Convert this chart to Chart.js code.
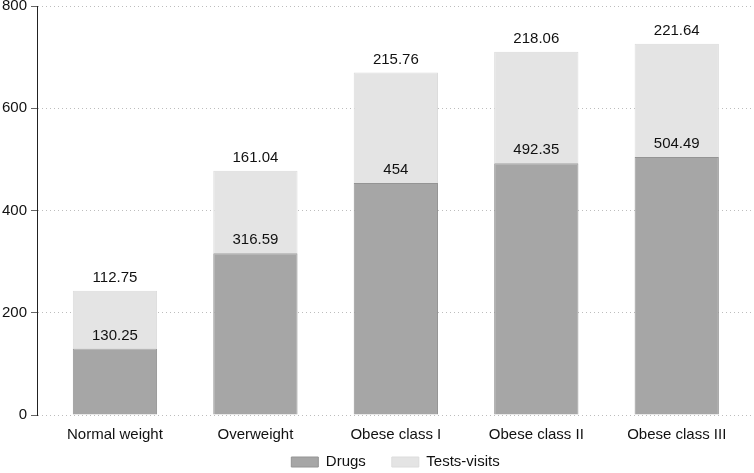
<!DOCTYPE html>
<html>
<head>
<meta charset="utf-8">
<script src="https://cdn.jsdelivr.net/npm/chart.js@4/dist/chart.umd.min.js"></script>
<style>
  html, body { margin: 0; padding: 0; background: #fff; }
  #wrap { width: 754px; height: 473px; position: relative; }
</style>
</head>
<body>
<div id="wrap"><canvas id="costs"></canvas></div>
<script>
let categories = ["Normal weight", "Overweight", "Obese class I", "Obese class II", "Obese class III"];
let drugs = [130.25, 316.59, 454, 492.35, 504.49];
let testsVisits = [112.75, 161.04, 215.76, 218.06, 221.64];
let yTicks = [0, 200, 400, 600, 800];

function toPoints(values) {
    return values.map((v, i) => ({ x: i, y: v }));
}

// labels on top of each segment
const valueLabels = {
    id: "valueLabels",
    afterLayout(chart) {
        // pull the legend up, closer to the axis labels
        chart.legend.top -= 26.5;
        chart.legend.bottom -= 26.5;
    },
    afterDatasetsDraw(chart) {
        const ctx = chart.ctx;
        ctx.save();
        ctx.font = "15px 'Liberation Sans', Arial, sans-serif";
        ctx.fillStyle = "#111";
        ctx.textAlign = "center";
        ctx.textBaseline = "middle";
        chart.data.datasets.forEach((ds, d) => {
            chart.getDatasetMeta(d).data.forEach((bar, i) => {
                ctx.fillText(String(ds.data[i].y), bar.x, bar.y - 13);
            });
        });
        ctx.restore();
    }
};

const pane = document.getElementById("costs");
new Chart(pane, {
    type: "bar",
    data: {
        datasets: [{
            label: "Drugs",
            data: toPoints(drugs),
            backgroundColor: "#a6a6a6",
            borderColor: "#949494",
            borderWidth: 1,
            barPercentage: 0.6,
            categoryPercentage: 1
        }, {
            label: "Tests-visits",
            data: toPoints(testsVisits),
            backgroundColor: "#e4e4e4",
            borderColor: "#dcdcdc",
            borderWidth: 1,
            barPercentage: 0.6,
            categoryPercentage: 1
        }]
    },
    options: {
        responsive: true,
        maintainAspectRatio: false,
        animation: false,
        layout: { padding: { top: 0, right: 0, bottom: -33, left: 0 } },
        font: { family: "'Liberation Sans', Arial, sans-serif" },
        scales: {
            x: {
                type: "linear",
                stacked: true,
                offset: false,
                min: -0.555,
                max: 4.55,
                afterBuildTicks: (scale) => { scale.ticks = categories.map((c, i) => ({ value: i })); },
                ticks: {
                    callback: (v) => categories[v],
                    color: "#111",
                    font: { size: 15, family: "'Liberation Sans', Arial, sans-serif" },
                    padding: 11,
                    maxRotation: 0,
                    autoSkip: false
                },
                grid: { display: false, drawTicks: false },
                border: { display: false }
            },
            y: {
                stacked: true,
                min: 0,
                max: 800,
                afterBuildTicks: (scale) => { scale.ticks = yTicks.map(v => ({ value: v })); },
                afterFit: (scale) => { scale.width = 37; scale.paddingTop = 6; },
                ticks: {
                    color: "#111",
                    font: { size: 15, family: "'Liberation Sans', Arial, sans-serif" },
                    padding: 4
                },
                grid: {
                    color: "#bdbdbd",
                    tickBorderDash: [],
                    tickColor: "#666",
                    tickLength: 6,
                    lineWidth: 1
                },
                border: { display: true, color: "#222", width: 1, dash: [1, 3] }
            }
        },
        plugins: {
            legend: {
                position: "bottom",
                fullSize: false,
                labels: {
                    boxWidth: 27,
                    boxHeight: 10,
                    padding: 26,
                    color: "#111",
                    font: { size: 15, family: "'Liberation Sans', Arial, sans-serif" }
                }
            },
            tooltip: { enabled: false }
        }
    },
    plugins: [valueLabels]
});
</script>
</body>
</html>
